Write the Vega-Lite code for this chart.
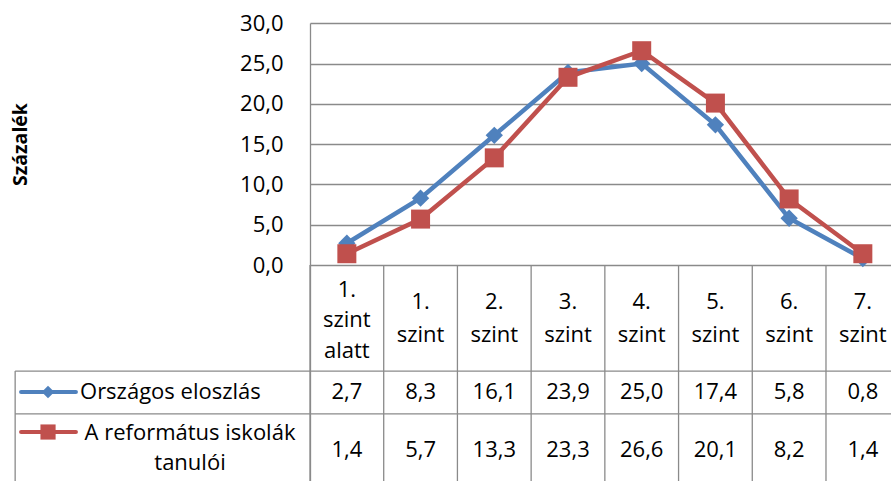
{
  "$schema": "https://vega.github.io/schema/vega-lite/v6.json",
  "width": 581,
  "height": 458,
  "padding": {"left": 310, "top": 23, "right": 0, "bottom": 0},
  "autosize": "none",
  "background": "white",
  "config": {
    "view": {"stroke": null},
    "font": "Open Sans",
    "locale": {"number": {"decimal": ",", "thousands": " ", "grouping": [3], "currency": ["", ""]}}
  },
  "datasets": {
    "levels": [
      {"level": 0, "name": "1. szint alatt"},
      {"level": 1, "name": "1. szint"},
      {"level": 2, "name": "2. szint"},
      {"level": 3, "name": "3. szint"},
      {"level": 4, "name": "4. szint"},
      {"level": 5, "name": "5. szint"},
      {"level": 6, "name": "6. szint"},
      {"level": 7, "name": "7. szint"}
    ],
    "results": [
      {"level": 0, "series": "Országos eloszlás", "value": 2.7},
      {"level": 1, "series": "Országos eloszlás", "value": 8.3},
      {"level": 2, "series": "Országos eloszlás", "value": 16.1},
      {"level": 3, "series": "Országos eloszlás", "value": 23.9},
      {"level": 4, "series": "Országos eloszlás", "value": 25.0},
      {"level": 5, "series": "Országos eloszlás", "value": 17.4},
      {"level": 6, "series": "Országos eloszlás", "value": 5.8},
      {"level": 7, "series": "Országos eloszlás", "value": 0.8},
      {"level": 0, "series": "A református iskolák tanulói", "value": 1.4},
      {"level": 1, "series": "A református iskolák tanulói", "value": 5.7},
      {"level": 2, "series": "A református iskolák tanulói", "value": 13.3},
      {"level": 3, "series": "A református iskolák tanulói", "value": 23.3},
      {"level": 4, "series": "A református iskolák tanulói", "value": 26.6},
      {"level": 5, "series": "A református iskolák tanulói", "value": 20.1},
      {"level": 6, "series": "A református iskolák tanulói", "value": 8.2},
      {"level": 7, "series": "A református iskolák tanulói", "value": 1.4}
    ],
    "one": [{"row": 1}]
  },
  "layer": [
    {
      "data": {"name": "results"},
      "mark": {"type": "rule", "opacity": 0},
      "encoding": {
        "x": {"field": "level", "type": "quantitative", "scale": {"domain": [-0.5, 7.382], "nice": false, "zero": false}, "axis": null},
        "y": {
          "field": "value", "type": "quantitative",
          "scale": {"domain": [-26.81, 30.04], "nice": false, "zero": false},
          "axis": {
            "values": [0, 5, 10, 15, 20, 25, 30],
            "format": ".1f",
            "grid": true, "gridColor": "#8a8a8a", "gridWidth": 1.3,
            "domain": true, "domainColor": "#8a8a8a", "domainWidth": 1.3,
            "ticks": false,
            "labelPadding": 27, "labelFontSize": 22, "labelColor": "#000", "labelFont": "Open Sans",
            "title": "Százalék", "titleFont": "Open Sans", "titleFontSize": 19.5, "titleFontWeight": "bold", "titleColor": "#000",
            "titleX": -290, "titleY": 121, "titleAngle": -90, "titleAlign": "center", "titleBaseline": "middle"
          }
        }
      }
    },
    {
      "data": {"name": "levels"},
      "transform": [{"calculate": "datum.level - 0.5", "as": "edge"}],
      "mark": {"type": "rule", "color": "#8a8a8a", "strokeWidth": 1.3},
      "encoding": {
        "x": {"field": "edge", "type": "quantitative"},
        "y": {"datum": 0},
        "y2": {"datum": -26.81}
      }
    },
    {
      "data": {"name": "one"},
      "mark": {"type": "rule", "color": "#8a8a8a", "strokeWidth": 1.3},
      "encoding": {"x": {"datum": -4.5}, "x2": {"datum": 7.382}, "y": {"datum": -13.16}}
    },
    {
      "data": {"name": "one"},
      "mark": {"type": "rule", "color": "#8a8a8a", "strokeWidth": 1.3},
      "encoding": {"x": {"datum": -4.5}, "x2": {"datum": 7.382}, "y": {"datum": -18.49}}
    },
    {
      "data": {"name": "one"},
      "mark": {"type": "rule", "color": "#8a8a8a", "strokeWidth": 1.3},
      "encoding": {"x": {"datum": -4.5}, "y": {"datum": -13.16}, "y2": {"datum": -26.81}}
    },
    {
      "data": {"name": "results"},
      "mark": {"type": "line", "strokeWidth": 4.5},
      "encoding": {
        "x": {"field": "level", "type": "quantitative"},
        "y": {"field": "value", "type": "quantitative"},
        "color": {"field": "series", "type": "nominal", "scale": {"domain": ["Országos eloszlás", "A református iskolák tanulói"], "range": ["#4F81BD", "#C0504D"]}, "legend": null}
      }
    },
    {
      "data": {"name": "results"},
      "mark": {"type": "point", "filled": true, "opacity": 1},
      "encoding": {
        "x": {"field": "level", "type": "quantitative"},
        "y": {"field": "value", "type": "quantitative"},
        "color": {"field": "series", "type": "nominal", "legend": null},
        "shape": {"field": "series", "type": "nominal", "scale": {"domain": ["Országos eloszlás", "A református iskolák tanulói"], "range": ["diamond", "square"]}, "legend": null},
        "size": {"field": "series", "type": "nominal", "scale": {"domain": ["Országos eloszlás", "A református iskolák tanulói"], "range": [300, 361]}, "legend": null}
      }
    },
    {
      "data": {"name": "levels"},
      "transform": [{"filter": "datum.level > 0"}],
      "mark": {"type": "text", "fontSize": 22, "lineBreak": " ", "lineHeight": 32.5, "baseline": "middle", "align": "center", "color": "#000"},
      "encoding": {
        "x": {"field": "level", "type": "quantitative"},
        "y": {"datum": -4.65},
        "text": {"field": "name", "type": "nominal"}
      }
    },
    {
      "data": {"name": "levels"},
      "transform": [{"filter": "datum.level === 0"}],
      "mark": {"type": "text", "fontSize": 22, "lineBreak": " ", "lineHeight": 30.5, "baseline": "middle", "align": "center", "color": "#000"},
      "encoding": {
        "x": {"field": "level", "type": "quantitative"},
        "y": {"datum": -3.04},
        "text": {"field": "name", "type": "nominal"}
      }
    },
    {
      "data": {"name": "results"},
      "transform": [{"filter": "datum.series === 'Országos eloszlás'"}],
      "mark": {"type": "text", "fontSize": 22, "baseline": "middle", "align": "center", "color": "#000"},
      "encoding": {
        "x": {"field": "level", "type": "quantitative"},
        "y": {"datum": -15.76},
        "text": {"field": "value", "type": "quantitative", "format": ".1f"}
      }
    },
    {
      "data": {"name": "results"},
      "transform": [{"filter": "datum.series !== 'Országos eloszlás'"}],
      "mark": {"type": "text", "fontSize": 22, "baseline": "middle", "align": "center", "color": "#000"},
      "encoding": {
        "x": {"field": "level", "type": "quantitative"},
        "y": {"datum": -22.96},
        "text": {"field": "value", "type": "quantitative", "format": ".1f"}
      }
    },
    {
      "data": {"name": "one"},
      "mark": {"type": "rule", "color": "#4F81BD", "strokeWidth": 4, "strokeCap": "round"},
      "encoding": {"x": {"datum": -4.42}, "x2": {"datum": -3.675}, "y": {"datum": -15.76}}
    },
    {
      "data": {"name": "one"},
      "mark": {"type": "point", "shape": "diamond", "filled": true, "opacity": 1, "color": "#4F81BD", "size": 160},
      "encoding": {"x": {"datum": -4.054}, "y": {"datum": -15.76}}
    },
    {
      "data": {"name": "one"},
      "mark": {"type": "rule", "color": "#C0504D", "strokeWidth": 4, "strokeCap": "round"},
      "encoding": {"x": {"datum": -4.42}, "x2": {"datum": -3.675}, "y": {"datum": -20.73}}
    },
    {
      "data": {"name": "one"},
      "mark": {"type": "point", "shape": "square", "filled": true, "opacity": 1, "color": "#C0504D", "size": 230},
      "encoding": {"x": {"datum": -4.054}, "y": {"datum": -20.73}}
    },
    {
      "data": {"name": "one"},
      "mark": {"type": "text", "fontSize": 22, "baseline": "middle", "align": "left", "color": "#000"},
      "encoding": {"x": {"datum": -3.62}, "y": {"datum": -15.76}, "text": {"value": "Országos eloszlás"}}
    },
    {
      "data": {"name": "one"},
      "mark": {"type": "text", "fontSize": 22, "baseline": "middle", "align": "center", "color": "#000", "lineBreak": "\n", "lineHeight": 30},
      "encoding": {"x": {"datum": -2.128}, "y": {"datum": -20.85}, "text": {"value": "A református iskolák\ntanulói"}}
    }
  ]
}
